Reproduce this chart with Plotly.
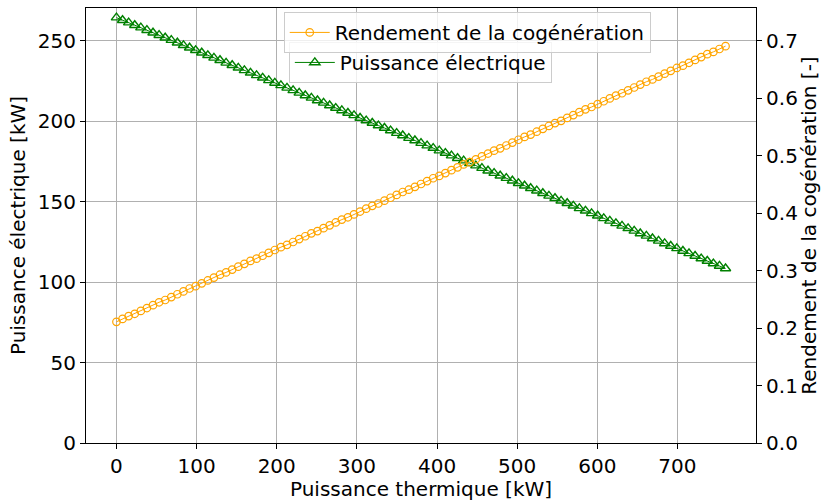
import plotly.graph_objects as go

# Thermal power output [kW]
p_th = [0.0, 7.6, 15.2, 22.8, 30.4, 38.0, 45.6, 53.2, 60.8, 68.4, 76.0,
        83.6, 91.2, 98.8, 106.4, 114.0, 121.6, 129.2, 136.8, 144.4, 152.0,
        159.6, 167.2, 174.8, 182.4, 190.0, 197.6, 205.2, 212.8, 220.4, 228.0,
        235.6, 243.2, 250.8, 258.4, 266.0, 273.6, 281.2, 288.8, 296.4, 304.0,
        311.6, 319.2, 326.8, 334.4, 342.0, 349.6, 357.2, 364.8, 372.4, 380.0,
        387.6, 395.2, 402.8, 410.4, 418.0, 425.6, 433.2, 440.8, 448.4, 456.0,
        463.6, 471.2, 478.8, 486.4, 494.0, 501.6, 509.2, 516.8, 524.4, 532.0,
        539.6, 547.2, 554.8, 562.4, 570.0, 577.6, 585.2, 592.8, 600.4, 608.0,
        615.6, 623.2, 630.8, 638.4, 646.0, 653.6, 661.2, 668.8, 676.4, 684.0,
        691.6, 699.2, 706.8, 714.4, 722.0, 729.6, 737.2, 744.8, 752.4, 760.0]

# Electrical power output [kW]
p_el = [264.5, 262.9, 261.4, 259.8, 258.3, 256.7, 255.1, 253.6, 252.0, 250.5, 248.9,
        247.3, 245.8, 244.2, 242.7, 241.1, 239.5, 238.0, 236.4, 234.9, 233.3,
        231.7, 230.2, 228.6, 227.1, 225.5, 223.9, 222.4, 220.8, 219.3, 217.7,
        216.1, 214.6, 213.0, 211.5, 209.9, 208.3, 206.8, 205.2, 203.7, 202.1,
        200.5, 199.0, 197.4, 195.9, 194.3, 192.7, 191.2, 189.6, 188.1, 186.5,
        184.9, 183.4, 181.8, 180.3, 178.7, 177.1, 175.6, 174.0, 172.5, 170.9,
        169.3, 167.8, 166.2, 164.7, 163.1, 161.5, 160.0, 158.4, 156.9, 155.3,
        153.7, 152.2, 150.6, 149.1, 147.5, 145.9, 144.4, 142.8, 141.3, 139.7,
        138.1, 136.6, 135.0, 133.5, 131.9, 130.3, 128.8, 127.2, 125.7, 124.1,
        122.5, 121.0, 119.4, 117.9, 116.3, 114.7, 113.2, 111.6, 110.1, 108.5]

# Overall cogeneration efficiency [-]
rendement = [0.211, 0.216, 0.221, 0.225, 0.230, 0.235, 0.240, 0.245, 0.249, 0.254, 0.259,
             0.264, 0.269, 0.273, 0.278, 0.283, 0.288, 0.293, 0.297, 0.302, 0.307,
             0.312, 0.317, 0.321, 0.326, 0.331, 0.336, 0.341, 0.345, 0.350, 0.355,
             0.360, 0.365, 0.369, 0.374, 0.379, 0.384, 0.389, 0.393, 0.398, 0.403,
             0.408, 0.413, 0.417, 0.422, 0.427, 0.432, 0.437, 0.441, 0.446, 0.451,
             0.456, 0.461, 0.465, 0.470, 0.475, 0.480, 0.485, 0.489, 0.494, 0.499,
             0.504, 0.509, 0.513, 0.518, 0.523, 0.528, 0.533, 0.537, 0.542, 0.547,
             0.552, 0.557, 0.561, 0.566, 0.571, 0.576, 0.581, 0.585, 0.590, 0.595,
             0.600, 0.605, 0.609, 0.614, 0.619, 0.624, 0.629, 0.633, 0.638, 0.643,
             0.648, 0.653, 0.657, 0.662, 0.667, 0.672, 0.677, 0.681, 0.686, 0.691]

x_ticks = [0, 100, 200, 300, 400, 500, 600, 700]
y_ticks = [0, 50, 100, 150, 200, 250]
y2_ticks = [0.0, 0.1, 0.2, 0.3, 0.4, 0.5, 0.6, 0.7]

FONT = "DejaVu Sans"
FS = 20

fig = go.Figure()

fig.add_trace(go.Scatter(
    x=p_th, y=p_el, name="Puissance électrique", mode="lines+markers",
    line=dict(color="#008000", width=1),
    marker=dict(symbol="triangle-up-open", size=9, color="#008000",
                line=dict(width=1.4)),
    yaxis="y", legend="legend", showlegend=True,
))
fig.add_trace(go.Scatter(
    x=p_th, y=rendement, name="Rendement de la cogénération", mode="lines+markers",
    line=dict(color="#FFA500", width=1),
    marker=dict(symbol="circle-open", size=7.5, color="#FFA500",
                line=dict(width=1.2)),
    yaxis="y2", legend="legend2", showlegend=True,
))

axis_common = dict(
    showline=True, linecolor="black", linewidth=1.2,
    ticks="outside", ticklen=5, tickwidth=1.2, tickcolor="black",
    tickfont=dict(family=FONT, size=FS, color="black"),
    zeroline=False, automargin=False,
)

fig.update_layout(
    width=821, height=501,
    margin=dict(l=86, r=65, t=8, b=58),
    paper_bgcolor="white", plot_bgcolor="white",
    showlegend=True,
    font=dict(family=FONT, size=FS, color="black"),
    xaxis=dict(
        range=[-38, 798], tickvals=x_ticks, mirror=True,
        showgrid=True, gridcolor="#b0b0b0", gridwidth=1,
        title=dict(text="Puissance thermique [kW]", font=dict(family=FONT, size=FS),
                   standoff=1),
        **axis_common,
    ),
    yaxis=dict(
        range=[0, 270.5], tickvals=y_ticks,
        showgrid=True, gridcolor="#b0b0b0", gridwidth=1,
        title=dict(text="Puissance électrique [kW]", font=dict(family=FONT, size=FS),
                   standoff=6),
        **axis_common,
    ),
    yaxis2=dict(
        range=[0, 0.7574], tickvals=y2_ticks, tickformat=".1f",
        overlaying="y", side="right", showgrid=False,
        title=dict(text="Rendement de la cogénération [-]", font=dict(family=FONT, size=FS),
                   standoff=8),
        **axis_common,
    ),
    legend=dict(
        x=0.499, y=0.922, xanchor="center", yanchor="top",
        bgcolor="rgba(255,255,255,0.8)", bordercolor="#cccccc", borderwidth=1,
        font=dict(family=FONT, size=FS), itemwidth=40,
    ),
    legend2=dict(
        x=0.569, y=0.991, xanchor="center", yanchor="top",
        bgcolor="rgba(255,255,255,0.8)", bordercolor="#cccccc", borderwidth=1,
        font=dict(family=FONT, size=FS), itemwidth=40,
    ),
)

fig.write_html("out.html")
